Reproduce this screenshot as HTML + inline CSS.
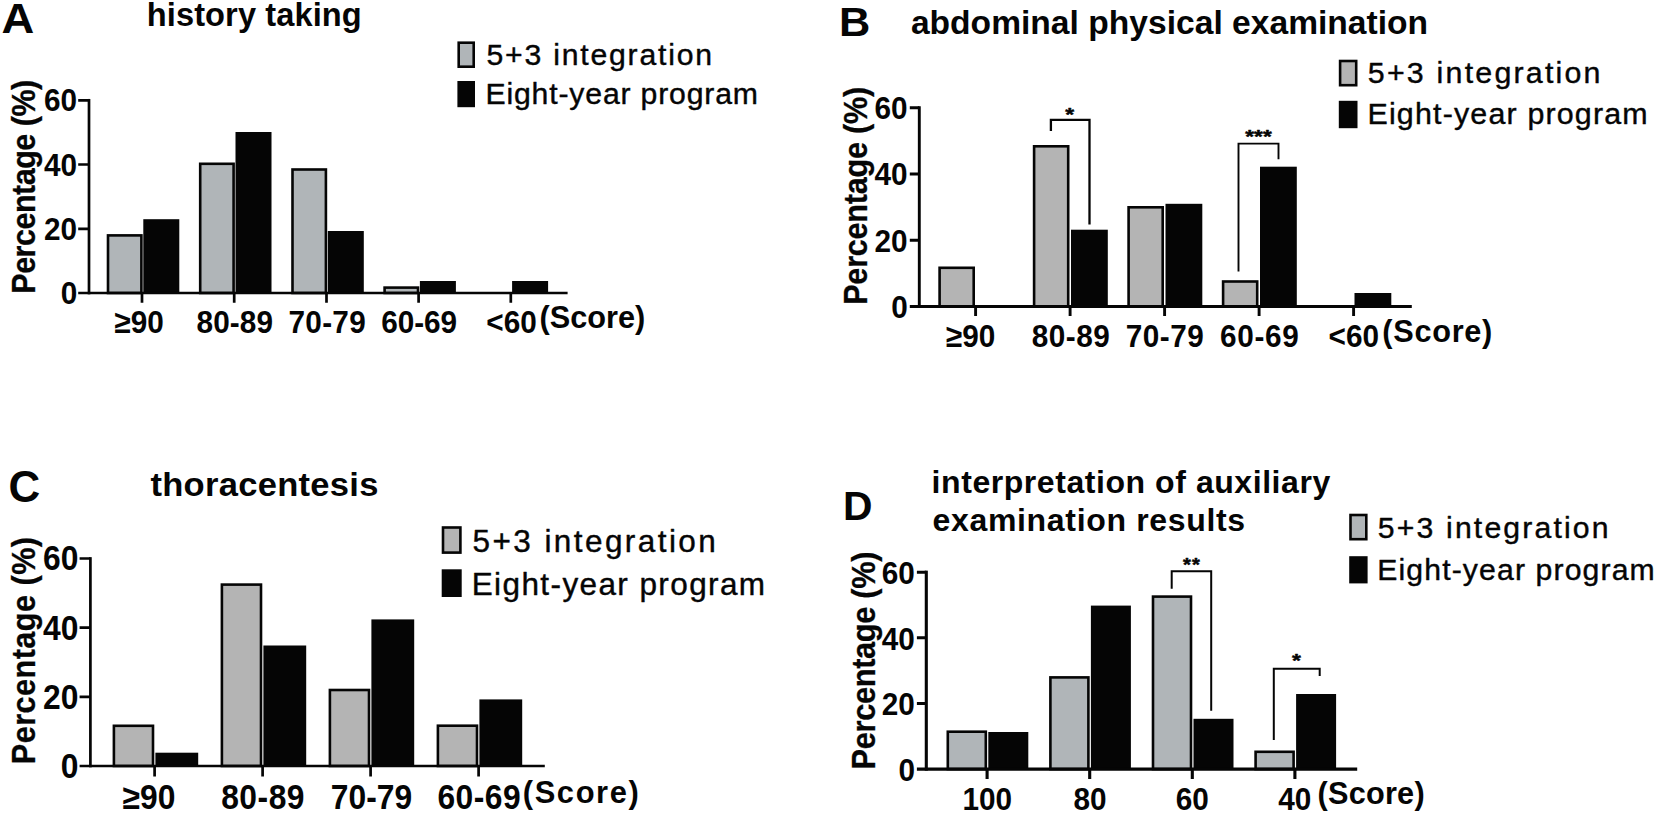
<!DOCTYPE html>
<html lang="en">
<head>
<meta charset="utf-8">
<title>OSCE score distribution: 5+3 integration vs eight-year program</title>
<style>
html,body{margin:0;padding:0;background:#fff;}
body{width:1655px;height:813px;overflow:hidden;}
svg{display:block;font-family:'Liberation Sans', sans-serif;}
</style>
</head>
<body>
<svg width="1655" height="813" viewBox="0 0 1655 813">
<rect width="1655" height="813" fill="#fff"/>
<g id="panelA">
<rect x="108" y="235.4" width="33.4" height="57.6" fill="#b0b5b8" stroke="#050505" stroke-width="2.6"/>
<rect x="143.3" y="219.2" width="36" height="73.8" fill="#050505"/>
<rect x="200.2" y="163.8" width="33.4" height="129.2" fill="#b0b5b8" stroke="#050505" stroke-width="2.6"/>
<rect x="235.5" y="132" width="36" height="161" fill="#050505"/>
<rect x="292.5" y="169.5" width="33.4" height="123.5" fill="#b0b5b8" stroke="#050505" stroke-width="2.6"/>
<rect x="327.8" y="231" width="36" height="62" fill="#050505"/>
<rect x="384.6" y="287.6" width="33.4" height="5.4" fill="#b0b5b8" stroke="#050505" stroke-width="2.6"/>
<rect x="419.9" y="281" width="36" height="12" fill="#050505"/>
<rect x="512.1" y="281" width="36" height="12" fill="#050505"/>
<path d="M89 98.95V294.35" stroke="#050505" stroke-width="2.7" fill="none"/>
<path d="M78.2 293H567.6" stroke="#050505" stroke-width="2.7" fill="none"/>
<path d="M78.2 100.3H89M78.2 164.5H89M78.2 228.8H89M142 293V302.8M234.2 293V302.8M326.5 293V302.8M418.6 293V302.8M510.8 293V302.8" stroke="#050505" stroke-width="2.7" fill="none"/>
<rect x="458.7" y="42.7" width="15" height="24" fill="#b0b5b8" stroke="#050505" stroke-width="2.6"/>
<rect x="457.4" y="81" width="17.6" height="26.2" fill="#050505"/>
</g>
<g id="panelB">
<rect x="939.6" y="267.8" width="34.1" height="38.7" fill="#b4b4b4" stroke="#050505" stroke-width="2.6"/>
<rect x="1034.1" y="146.3" width="34.1" height="160.2" fill="#b4b4b4" stroke="#050505" stroke-width="2.6"/>
<rect x="1071" y="229.7" width="36.8" height="76.8" fill="#050505"/>
<rect x="1128.6" y="207.3" width="34.1" height="99.2" fill="#b4b4b4" stroke="#050505" stroke-width="2.6"/>
<rect x="1165.5" y="203.8" width="36.8" height="102.7" fill="#050505"/>
<rect x="1223.1" y="281.5" width="34.1" height="25" fill="#b4b4b4" stroke="#050505" stroke-width="2.6"/>
<rect x="1260" y="166.7" width="36.8" height="139.8" fill="#050505"/>
<rect x="1354.5" y="293" width="36.8" height="13.5" fill="#050505"/>
<path d="M919.3 106.25V307.95" stroke="#050505" stroke-width="2.9" fill="none"/>
<path d="M909.8 306.5H1411.8" stroke="#050505" stroke-width="2.9" fill="none"/>
<path d="M909.8 107.7H919.3M909.8 174H919.3M909.8 240.2H919.3M975.6 306.5V315.9M1070.1 306.5V315.9M1164.6 306.5V315.9M1259.1 306.5V315.9M1353.6 306.5V315.9" stroke="#050505" stroke-width="2.9" fill="none"/>
<rect x="1340.1" y="61" width="16.1" height="24.2" fill="#b4b4b4" stroke="#050505" stroke-width="2.6"/>
<rect x="1338.8" y="100.8" width="18.7" height="27.4" fill="#050505"/>
<path d="M1050.9 131V119.9H1089.5V224.6" stroke="#050505" stroke-width="2.3" fill="none"/>
<path d="M1238.5 271.6V143.6H1278.5V159.3" stroke="#050505" stroke-width="1.9" fill="none"/>
</g>
<g id="panelC">
<rect x="113.9" y="725.8" width="39.1" height="40.2" fill="#b4b4b4" stroke="#050505" stroke-width="2.6"/>
<rect x="155.4" y="752.7" width="42.8" height="13.3" fill="#050505"/>
<rect x="221.9" y="584.6" width="39.1" height="181.4" fill="#b4b4b4" stroke="#050505" stroke-width="2.6"/>
<rect x="263.4" y="645.5" width="42.8" height="120.5" fill="#050505"/>
<rect x="329.9" y="690" width="39.1" height="76" fill="#b4b4b4" stroke="#050505" stroke-width="2.6"/>
<rect x="371.4" y="619.4" width="42.8" height="146.6" fill="#050505"/>
<rect x="437.9" y="725.7" width="39.1" height="40.3" fill="#b4b4b4" stroke="#050505" stroke-width="2.6"/>
<rect x="479.4" y="699.4" width="42.8" height="66.6" fill="#050505"/>
<path d="M90.4 557.15V767.35" stroke="#050505" stroke-width="2.7" fill="none"/>
<path d="M79.6 766H544.8" stroke="#050505" stroke-width="2.7" fill="none"/>
<path d="M79.6 558.5H90.4M79.6 627.7H90.4M79.6 696.8H90.4M154.6 766V776.6M262.6 766V776.6M370.6 766V776.6M478.6 766V776.6" stroke="#050505" stroke-width="2.7" fill="none"/>
<rect x="443" y="527.5" width="17.4" height="25.1" fill="#b4b4b4" stroke="#050505" stroke-width="2.6"/>
<rect x="441.7" y="569.3" width="20" height="27.7" fill="#050505"/>
</g>
<g id="panelD">
<rect x="947.8" y="731.7" width="38" height="37.4" fill="#b0b5b8" stroke="#050505" stroke-width="2.6"/>
<rect x="988.3" y="732" width="40" height="37.1" fill="#050505"/>
<rect x="1050.4" y="677.4" width="38" height="91.7" fill="#b0b5b8" stroke="#050505" stroke-width="2.6"/>
<rect x="1090.9" y="605.6" width="40" height="163.5" fill="#050505"/>
<rect x="1153" y="596.6" width="38" height="172.5" fill="#b0b5b8" stroke="#050505" stroke-width="2.6"/>
<rect x="1193.5" y="718.8" width="40" height="50.3" fill="#050505"/>
<rect x="1255.6" y="751.8" width="38" height="17.3" fill="#b0b5b8" stroke="#050505" stroke-width="2.6"/>
<rect x="1296.1" y="694" width="40" height="75.1" fill="#050505"/>
<path d="M926.3 570.65V770.65" stroke="#050505" stroke-width="3.1" fill="none"/>
<path d="M916.9 769.1H1357.2" stroke="#050505" stroke-width="3.1" fill="none"/>
<path d="M916.9 572.2H926.3M916.9 637.8H926.3M916.9 703.5H926.3M987.1 769.1V778.9M1089.7 769.1V778.9M1192.3 769.1V778.9M1294.9 769.1V778.9" stroke="#050505" stroke-width="3.1" fill="none"/>
<rect x="1350.5" y="515" width="15.8" height="24.2" fill="#b0b5b8" stroke="#050505" stroke-width="2.6"/>
<rect x="1349.2" y="556.2" width="18.4" height="27.2" fill="#050505"/>
<path d="M1171.7 588.8V571.3H1211.2V710.7" stroke="#050505" stroke-width="2" fill="none"/>
<path d="M1273.8 740.1V668.7H1319.7V676.1" stroke="#050505" stroke-width="2" fill="none"/>
</g>
<g id="labels" fill="#050505" stroke="#050505" stroke-linejoin="round">
<text transform="translate(1.57 33) scale(1.08 1)" font-size="42.0" stroke="none" font-weight="bold">A</text>
<text x="146.8" y="26.1" font-size="32.6" stroke="none" font-weight="bold" letter-spacing="0.1">history taking</text>
<text x="486.53" y="64.6" font-size="30.2" stroke-width="0.4" letter-spacing="1.78">5+3 integration</text>
<text x="485.5" y="104.4" font-size="30.2" stroke-width="0.4" letter-spacing="0.83">Eight-year program</text>
<text transform="translate(44 111.3) scale(0.93 1)" font-size="32.0" stroke="none" font-weight="bold">60</text>
<text transform="translate(44 175.5) scale(0.93 1)" font-size="32.0" stroke="none" font-weight="bold">40</text>
<text transform="translate(44 239.8) scale(0.93 1)" font-size="32.0" stroke="none" font-weight="bold">20</text>
<text transform="translate(60.75 304) scale(0.93 1)" font-size="32.0" stroke="none" font-weight="bold">0</text>
<text transform="translate(114.35 332.8) scale(0.93 1)" font-size="32.0" stroke="none" font-weight="bold">≥90</text>
<text transform="translate(196.45 332.8) scale(0.93 1)" font-size="32.0" stroke="none" font-weight="bold" letter-spacing="0.15">80-89</text>
<text transform="translate(288.52 332.8) scale(0.93 1)" font-size="32.0" stroke="none" font-weight="bold" letter-spacing="0.29">70-79</text>
<text transform="translate(381.23 332.8) scale(0.93 1)" font-size="32.0" stroke="none" font-weight="bold" letter-spacing="-0.05">60-69</text>
<text transform="translate(486.3 332.8) scale(0.93 1)" font-size="32.0" stroke="none" font-weight="bold">&lt;60</text>
<text x="539.52" y="327.8" font-size="30.7" stroke="none" font-weight="bold" letter-spacing="0.01">(Score)</text>
<text transform="translate(35 293.7) rotate(-90) scale(0.93 1)" font-size="32.8" stroke-width="0.3" font-weight="bold" letter-spacing="-0.52">Percentage (%)</text>
<text transform="translate(838.98 36.3) scale(1.05 1)" font-size="41.3" stroke="none" font-weight="bold">B</text>
<text transform="translate(910.88 34) scale(1.03 1)" font-size="32.6" stroke="none" font-weight="bold" letter-spacing="0.02">abdominal physical examination</text>
<text x="1367.8" y="82.8" font-size="30.4" stroke-width="0.4" letter-spacing="2.2">5+3 integration</text>
<text x="1367.47" y="124" font-size="30.4" stroke-width="0.4" letter-spacing="1.18">Eight-year program</text>
<text transform="translate(874.5 119) scale(0.93 1)" font-size="32.0" stroke="none" font-weight="bold">60</text>
<text transform="translate(874.5 185.3) scale(0.93 1)" font-size="32.0" stroke="none" font-weight="bold">40</text>
<text transform="translate(874.5 251.5) scale(0.93 1)" font-size="32.0" stroke="none" font-weight="bold">20</text>
<text transform="translate(891.25 317.8) scale(0.93 1)" font-size="32.0" stroke="none" font-weight="bold">0</text>
<text transform="translate(945.85 346.6) scale(0.93 1)" font-size="32.0" stroke="none" font-weight="bold">≥90</text>
<text transform="translate(1031.65 346.6) scale(0.93 1)" font-size="32.0" stroke="none" font-weight="bold" letter-spacing="0.53">80-89</text>
<text transform="translate(1125.85 346.6) scale(0.93 1)" font-size="32.0" stroke="none" font-weight="bold" letter-spacing="0.49">70-79</text>
<text transform="translate(1220.05 346.6) scale(0.93 1)" font-size="32.0" stroke="none" font-weight="bold" letter-spacing="0.7">60-69</text>
<text transform="translate(1328.55 346.6) scale(0.93 1)" font-size="32.0" stroke="none" font-weight="bold">&lt;60</text>
<text x="1382.25" y="342.2" font-size="30.7" stroke="none" font-weight="bold" letter-spacing="0.72">(Score)</text>
<text transform="translate(866.6 304.8) rotate(-90) scale(0.93 1)" font-size="32.9" stroke-width="0.3" font-weight="bold" letter-spacing="-0.25">Percentage (%)</text>
<text transform="translate(1065.2 121.2) scale(1.2 1)" font-size="19" stroke-width="0.5" font-weight="bold">*</text>
<text transform="translate(1245.35 143.4) scale(1.25 1)" font-size="18" stroke-width="0.5" font-weight="bold" letter-spacing="0.02">***</text>
<text x="8.57" y="502" font-size="43.9" stroke="none" font-weight="bold">C</text>
<text transform="translate(150.45 496.4) scale(1.06 1)" font-size="32.6" stroke="none" font-weight="bold" letter-spacing="0.26">thoracentesis</text>
<text x="472.5" y="551.7" font-size="31.5" stroke-width="0.4" letter-spacing="2.43">5+3 integration</text>
<text x="471.7" y="595" font-size="31.5" stroke-width="0.4" letter-spacing="1.4">Eight-year program</text>
<text transform="translate(43.1 570.4) scale(0.93 1)" font-size="34.2" stroke="none" font-weight="bold">60</text>
<text transform="translate(43.1 639.6) scale(0.93 1)" font-size="34.2" stroke="none" font-weight="bold">40</text>
<text transform="translate(43.1 708.7) scale(0.93 1)" font-size="34.2" stroke="none" font-weight="bold">20</text>
<text transform="translate(60.85 777.9) scale(0.93 1)" font-size="34.2" stroke="none" font-weight="bold">0</text>
<text transform="translate(122.52 809.2) scale(0.93 1)" font-size="34.2" stroke="none" font-weight="bold">≥90</text>
<text transform="translate(221.17 809.2) scale(0.93 1)" font-size="34.2" stroke="none" font-weight="bold" letter-spacing="0.55">80-89</text>
<text transform="translate(330.7 809.2) scale(0.93 1)" font-size="34.2" stroke="none" font-weight="bold" letter-spacing="0.04">70-79</text>
<text transform="translate(437.38 809.2) scale(0.93 1)" font-size="34.2" stroke="none" font-weight="bold" letter-spacing="0.51">60-69</text>
<text x="522.8" y="803" font-size="30.9" stroke="none" font-weight="bold" letter-spacing="1.59">(Score)</text>
<text transform="translate(34.6 764.2) rotate(-90) scale(0.93 1)" font-size="32.9" stroke-width="0.3" font-weight="bold" letter-spacing="0.52">Percentage (%)</text>
<text x="842.9" y="520" font-size="40.8" stroke="none" font-weight="bold">D</text>
<text transform="translate(931.62 493.1) scale(1.04 1)" font-size="30.8" stroke="none" font-weight="bold" letter-spacing="0.53">interpretation of auxiliary</text>
<text transform="translate(932.5 531) scale(1.04 1)" font-size="30.8" stroke="none" font-weight="bold" letter-spacing="0.64">examination results</text>
<text x="1377.8" y="537.6" font-size="30.2" stroke-width="0.4" letter-spacing="2.16">5+3 integration</text>
<text x="1377.28" y="580.3" font-size="30.2" stroke-width="0.4" letter-spacing="1.12">Eight-year program</text>
<text transform="translate(881.7 583.9) scale(0.93 1)" font-size="32.0" stroke="none" font-weight="bold">60</text>
<text transform="translate(881.7 649.5) scale(0.93 1)" font-size="32.0" stroke="none" font-weight="bold">40</text>
<text transform="translate(881.7 715.2) scale(0.93 1)" font-size="32.0" stroke="none" font-weight="bold">20</text>
<text transform="translate(898.45 780.8) scale(0.93 1)" font-size="32.0" stroke="none" font-weight="bold">0</text>
<text transform="translate(962.5 809.7) scale(0.93 1)" font-size="32.0" stroke="none" font-weight="bold">100</text>
<text transform="translate(1073.4 809.7) scale(0.93 1)" font-size="32.0" stroke="none" font-weight="bold">80</text>
<text transform="translate(1175.8 809.7) scale(0.93 1)" font-size="32.0" stroke="none" font-weight="bold">60</text>
<text transform="translate(1278.2 809.7) scale(0.93 1)" font-size="32.0" stroke="none" font-weight="bold">40</text>
<text x="1317.47" y="804.1" font-size="30.7" stroke="none" font-weight="bold" letter-spacing="0.24">(Score)</text>
<text transform="translate(874.6 769.4) rotate(-90) scale(0.93 1)" font-size="33.1" stroke-width="0.3" font-weight="bold" letter-spacing="-0.37">Percentage (%)</text>
<text transform="translate(1183.03 570.8) scale(1.12 1)" font-size="18" stroke-width="0.5" font-weight="bold" letter-spacing="0.95">**</text>
<text transform="translate(1291.9 667.4) scale(1.2 1)" font-size="19" stroke-width="0.5" font-weight="bold">*</text>
</g>
</svg>
</body>
</html>
